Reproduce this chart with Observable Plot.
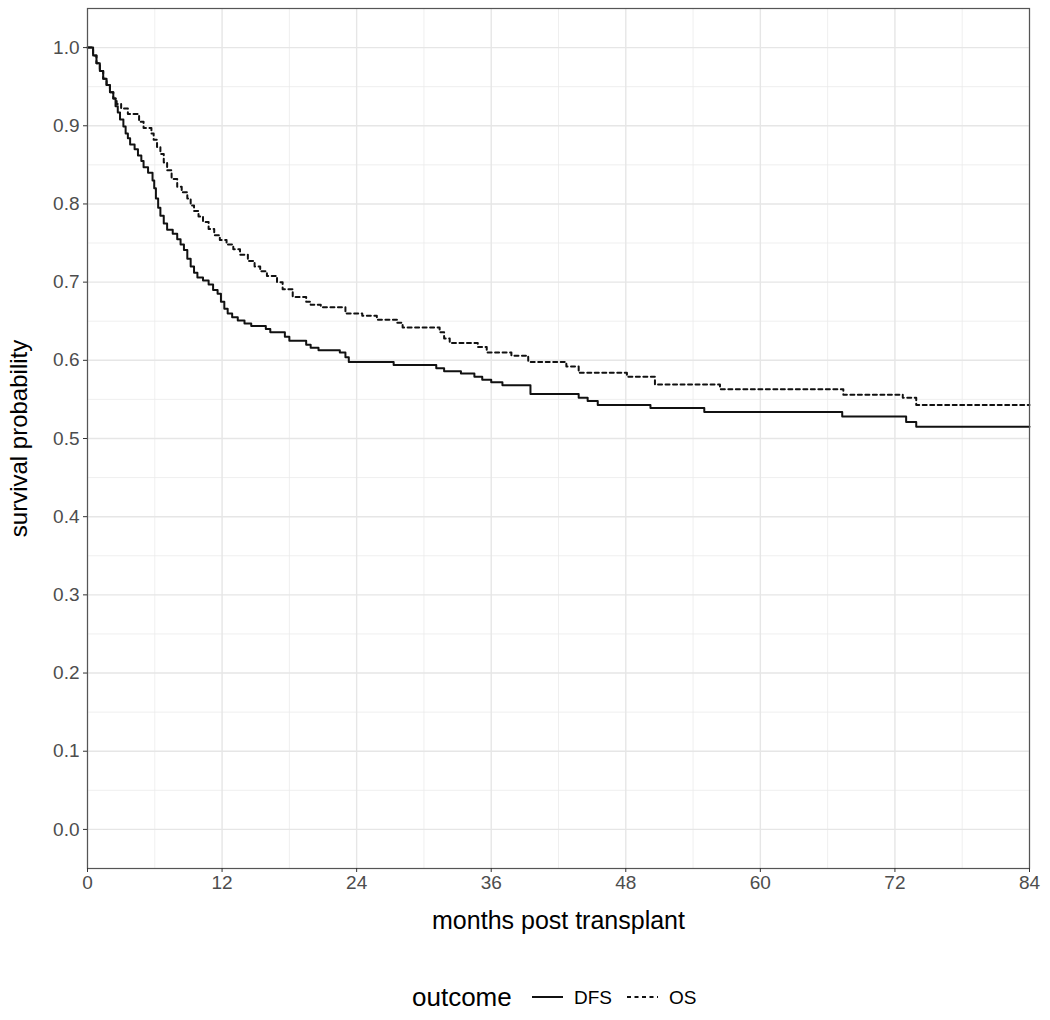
<!DOCTYPE html>
<html>
<head>
<meta charset="utf-8">
<script src="https://cdn.jsdelivr.net/npm/d3@7"></script>
<script src="https://cdn.jsdelivr.net/npm/@observablehq/plot@0.6"></script>
<style>
  body { margin: 0; background: #fff; font-family: "Liberation Sans", Arial, sans-serif; }
  #chart { width: 1050px; }
  .legend { position: relative; height: 70px; width: 1050px; }
  .legend span { position: absolute; color: #000; white-space: nowrap; line-height: 1; }
</style>
</head>
<body>
<div id="chart"></div>
<div class="legend" id="legend"></div>
<script>
// Kaplan–Meier estimates
const dfsTime = [0,0.5,0.8,1.1,1.4,1.7,2.0,2.3,2.5,2.7,2.9,3.2,3.4,3.6,3.8,4.2,4.5,4.8,5.0,5.4,5.8,5.95,6.1,6.3,6.5,6.8,7.1,7.6,8.0,8.3,8.6,8.9,9.2,9.5,9.8,10.3,10.8,11.2,11.6,11.9,12.2,12.5,12.9,13.4,14.0,14.6,15.9,16.3,17.6,18.0,19.5,19.9,20.6,22.5,23.0,23.3,27.3,31.1,31.8,33.3,34.5,35.2,36.0,37.0,39.5,43.8,44.6,45.5,50.2,55.0,67.3,73.0,73.9,84];
const dfsSurv = [1.0,0.99,0.98,0.97,0.96,0.952,0.943,0.935,0.925,0.917,0.908,0.899,0.89,0.884,0.876,0.87,0.862,0.855,0.847,0.84,0.83,0.82,0.807,0.795,0.785,0.775,0.767,0.762,0.755,0.748,0.741,0.73,0.72,0.712,0.706,0.702,0.697,0.69,0.685,0.675,0.666,0.66,0.655,0.651,0.647,0.644,0.64,0.636,0.63,0.625,0.62,0.616,0.613,0.61,0.604,0.598,0.594,0.59,0.586,0.583,0.579,0.575,0.572,0.568,0.557,0.552,0.548,0.543,0.539,0.534,0.528,0.521,0.515,0.515];
const osTime = [0,0.5,0.8,1.1,1.4,1.7,2.0,2.3,2.6,3.0,3.6,4.6,5.0,5.7,5.9,6.2,6.5,6.8,7.1,7.5,8.0,8.4,8.9,9.2,9.5,9.9,10.3,10.8,11.3,11.8,12.4,13.0,13.6,14.3,14.9,15.4,16.0,16.9,17.4,18.3,19.5,19.9,20.8,23.0,24.5,25.8,27.6,28.1,31.4,31.8,32.3,34.8,35.6,37.8,39.3,42.7,43.8,48.1,50.6,56.4,67.4,72.7,73.9,84];
const osSurv = [1.0,0.99,0.98,0.97,0.96,0.952,0.943,0.935,0.928,0.922,0.915,0.905,0.897,0.89,0.882,0.873,0.864,0.853,0.843,0.832,0.822,0.815,0.807,0.798,0.791,0.784,0.777,0.768,0.76,0.754,0.748,0.742,0.735,0.727,0.72,0.714,0.708,0.7,0.691,0.681,0.675,0.671,0.668,0.66,0.657,0.652,0.648,0.642,0.636,0.628,0.622,0.617,0.61,0.606,0.598,0.592,0.584,0.579,0.569,0.563,0.556,0.552,0.543,0.543];

const xTicks = [0,12,24,36,48,60,72,84];
const xMinor = [6,18,30,42,54,66,78];
const yTicks = [0,0.1,0.2,0.3,0.4,0.5,0.6,0.7,0.8,0.9,1.0];
const yMinor = [-0.05,0.05,0.15,0.25,0.35,0.45,0.55,0.65,0.75,0.85,0.95,1.05];
const outcomes = ["DFS","OS"];
const dashes = {DFS: null, OS: "4,3.5"};

const dfs = dfsTime.map((t,i) => ({t, s: dfsSurv[i], outcome: "DFS"}));
const os = osTime.map((t,i) => ({t, s: osSurv[i], outcome: "OS"}));

const chart = Plot.plot({
  width: 1050,
  height: 950,
  marginLeft: 87,
  marginRight: 21,
  marginTop: 8,
  marginBottom: 82,
  style: {fontFamily: "'Liberation Sans', Arial, sans-serif", background: "#fff"},
  x: {domain: [0, 84]},
  y: {domain: [-0.05, 1.05]},
  marks: [
    Plot.ruleX(xMinor, {stroke: "#EBEBEB", strokeWidth: 0.8}),
    Plot.ruleY(yMinor, {stroke: "#EBEBEB", strokeWidth: 0.8}),
    Plot.ruleX(xTicks, {stroke: "#E6E6E6", strokeWidth: 1.4}),
    Plot.ruleY(yTicks, {stroke: "#E6E6E6", strokeWidth: 1.4}),
    Plot.line(dfs, {x: "t", y: "s", curve: "step-after", stroke: "#111", strokeWidth: 2}),
    Plot.line(os, {x: "t", y: "s", curve: "step-after", stroke: "#111", strokeWidth: 2, strokeDasharray: dashes.OS}),
    Plot.frame({stroke: "#555", strokeWidth: 1.2}),
    Plot.axisX({ticks: xTicks, tickSize: 4, tickPadding: 3, stroke: "#333", fill: "#4D4D4D", fontSize: 19,
      label: "months post transplant", labelAnchor: "center", labelArrow: "none", labelOffset: 60}),
    Plot.axisY({ticks: yTicks, tickSize: 4, tickPadding: 4, tickFormat: d3.format(".1f"), stroke: "#333", fill: "#4D4D4D", fontSize: 19,
      label: "survival probability", labelAnchor: "center", labelArrow: "none", labelOffset: 78})
  ]
});
// axis title styling
chart.querySelectorAll("g[aria-label='x-axis label'] text, g[aria-label='y-axis label'] text").forEach(t => {
  t.setAttribute("font-size", "25");
  t.setAttribute("fill", "#000");
  t.style.fontSize = "25px";
});
const yl = chart.querySelector("g[aria-label='y-axis label'] text");
if (yl) { yl.setAttribute("font-size", "24"); yl.style.fontSize = "24px"; }
document.getElementById("chart").append(chart);

// legend
const leg = document.getElementById("legend");
function span(text, left, size, top) {
  const s = document.createElement("span");
  s.textContent = text; s.style.left = left + "px"; s.style.fontSize = size + "px"; s.style.top = top + "px";
  leg.append(s); return s;
}
span("outcome", 412, 26, 34);
const items = [{name: outcomes[0], x: 532}, {name: outcomes[1], x: 627}];
items.forEach(it => {
  const svg = d3.create("svg").attr("width", 32).attr("height", 10)
    .style("position", "absolute").style("left", it.x + "px").style("top", "42px");
  svg.append("line").attr("x1", 0).attr("x2", 31).attr("y1", 5).attr("y2", 5)
    .attr("stroke", "#111").attr("stroke-width", 2)
    .attr("stroke-dasharray", dashes[it.name]);
  leg.append(svg.node());
  span(it.name, it.x + 42, 19, 38);
});
</script>
</body>
</html>
